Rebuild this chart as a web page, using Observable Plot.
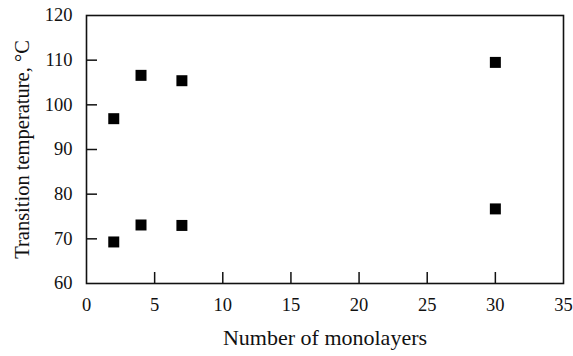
<!DOCTYPE html>
<html>
<head>
<meta charset="utf-8">
<script src="https://cdn.jsdelivr.net/npm/d3@7"></script>
<script src="https://cdn.jsdelivr.net/npm/@observablehq/plot@0.6"></script>
<style>
  html, body { margin: 0; padding: 0; background: #fff; }
  #chart svg, #chart svg text { font-family: "Liberation Serif", "Times New Roman", serif !important; }
  #chart g[aria-label$="tick label"] text { font-size: 18.5px !important; }
  #chart g[aria-label="x-axis label"] text { font-size: 22px !important; }
  #chart g[aria-label="y-axis label"] text { font-size: 20.5px !important; }
</style>
</head>
<body>
<div id="chart"></div>
<script>
// Number of monolayers in each film
const monolayers = [2, 4, 7, 30];
// Upper and lower transition temperatures, °C
const upperTransition = [96.9, 106.6, 105.4, 109.5];
const lowerTransition = [69.3, 73.1, 73.0, 76.7];

const xTicks = [0, 5, 10, 15, 20, 25, 30, 35];
const yTicks = [60, 70, 80, 90, 100, 110, 120];

const points = [
  ...monolayers.map((n, i) => ({n, t: upperTransition[i]})),
  ...monolayers.map((n, i) => ({n, t: lowerTransition[i]}))
];

const ink = "#111";

const chart = Plot.plot({
  width: 573,
  height: 356,
  marginLeft: 86,
  marginRight: 10,
  marginTop: 15,
  marginBottom: 73,
  style: {color: ink, background: "#fff"},
  x: {domain: [0, 35]},
  y: {domain: [60, 120]},
  marks: [
    // inward tick marks
    Plot.tickX(xTicks.slice(1, -1), {x: d => d, stroke: ink, strokeWidth: 1.5, insetTop: 257}),
    Plot.tickY(yTicks.slice(1, -1), {y: d => d, stroke: ink, strokeWidth: 1.5, insetRight: 466}),
    Plot.axisX({ticks: xTicks, tickSize: 0, tickPadding: 14, fill: ink,
      label: "Number of monolayers", labelAnchor: "center", labelArrow: "none", labelOffset: 61}),
    Plot.axisY({ticks: yTicks, tickSize: 0, tickPadding: 14, fill: ink,
      label: "Transition temperature, °C", labelAnchor: "center", labelArrow: "none", labelOffset: 72}),
    Plot.frame({stroke: ink, strokeWidth: 1.6}),
    Plot.dot(points, {x: "n", y: "t", symbol: "square", r: 6.2, fill: "#000", stroke: "none"})
  ]
});

document.getElementById("chart").appendChild(chart);
</script>
</body>
</html>
